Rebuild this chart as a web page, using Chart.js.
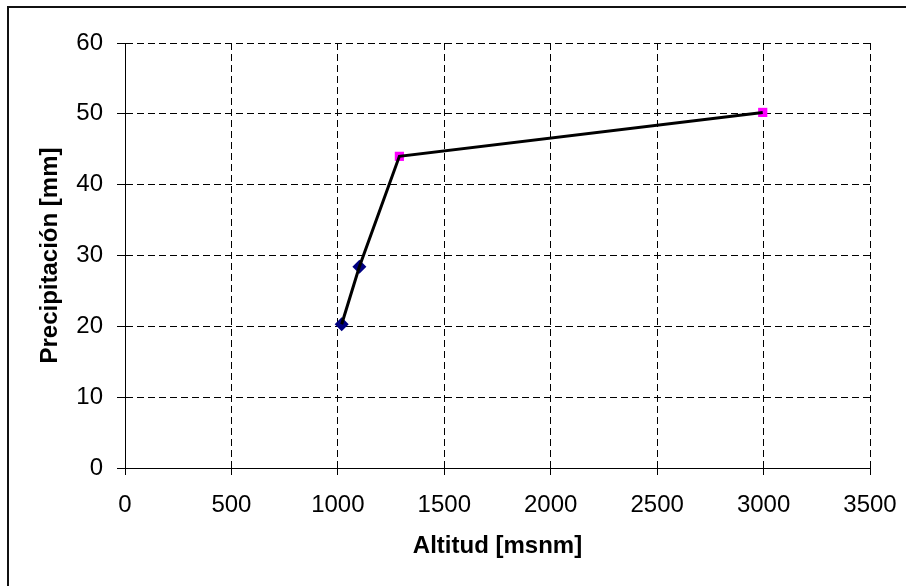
<!DOCTYPE html>
<html lang="es">
<head>
  <meta charset="UTF-8" />
  <title>Precipitación vs Altitud</title>
  <script src="https://cdn.jsdelivr.net/npm/chart.js@4.4.1/dist/chart.umd.min.js"></script>
  <style>
    html, body {
      margin: 0;
      padding: 0;
      background: #fff;
    }
    .wrap {
      position: relative;
      width: 906px;
      height: 586px;
    }
    .frame {
      position: absolute;
      left: 7px;
      top: 6px;
      right: 0;
      bottom: 0;
      border-top: 2px solid #111;
      border-left: 2px solid #111;
      pointer-events: none;
    }
  </style>
</head>
<body>
  <div class="wrap">
    <canvas id="chart" width="906" height="586"></canvas>
    <div class="frame"></div>
  </div>

  <script>
    // estaciones (primer grupo: rombos azules)
    const altitudA = [1018, 1101];
    const precipA = [20.3, 28.4];
    // estaciones (segundo grupo: cuadrados magenta)
    const altitudB = [1289, 2996];
    const precipB = [44.0, 50.2];

    // ejes
    const xMin = 0, xMax = 3500, xStep = 500;
    const yMin = 0, yMax = 60, yStep = 10;
    const xTitle = "Altitud [msnm]";
    const yTitle = "Precipitación [mm]";

    const toPoints = (xs, ys) => xs.map((x, i) => ({ x: x, y: ys[i] }));
    const lineData = toPoints(altitudA.concat(altitudB), precipA.concat(precipB));

    const font = "'Liberation Sans', Arial, sans-serif";

    new Chart(document.getElementById("chart").getContext("2d"), {
      type: "scatter",
      data: {
        datasets: [
          {
            label: "línea",
            data: lineData,
            showLine: true,
            borderColor: "#000",
            borderWidth: 3,
            pointRadius: 0,
            tension: 0,
            order: 0
          },
          {
            label: "grupo A",
            data: toPoints(altitudA, precipA),
            pointStyle: "rectRot",
            pointRadius: 7,
            pointBackgroundColor: "#000080",
            pointBorderColor: "#000080",
            pointBorderWidth: 0,
            order: 1
          },
          {
            label: "grupo B",
            data: toPoints(altitudB, precipB),
            pointStyle: "rect",
            pointRadius: 6.5,
            pointBackgroundColor: "#ff00ff",
            pointBorderColor: "#ff00ff",
            pointBorderWidth: 0,
            order: 1
          }
        ]
      },
      options: {
        responsive: false,
        animation: false,
        layout: { padding: { left: 0, right: 36, top: 43, bottom: 0 } },
        plugins: {
          legend: { display: false },
          tooltip: { enabled: false }
        },
        scales: {
          x: {
            type: "linear",
            min: xMin,
            max: xMax,
            ticks: {
              stepSize: xStep,
              color: "#000",
              padding: 16,
              font: { family: font, size: 24 },
              callback: (v) => String(v)
            },
            grid: {
              color: "#000",
              lineWidth: 1,
              tickLength: 7,
              tickColor: "#000",
              tickBorderDash: []
            },
            border: { color: "#000", width: 1, dash: [7, 4] },
            title: {
              display: true,
              text: xTitle,
              color: "#000",
              padding: { top: 25, bottom: 25 },
              font: { family: font, size: 24, weight: "bold" }
            },
            afterFit: (scale) => {
              scale.height = 118;
              scale.paddingLeft = 0;
              scale.paddingRight = 0;
            }
          },
          y: {
            type: "linear",
            min: yMin,
            max: yMax,
            ticks: {
              stepSize: yStep,
              color: "#000",
              padding: 14,
              font: { family: font, size: 24 },
              callback: (v) => String(v)
            },
            grid: {
              color: "#000",
              lineWidth: 1,
              tickLength: 8,
              tickColor: "#000",
              tickBorderDash: []
            },
            border: { color: "#000", width: 1, dash: [7, 4] },
            title: {
              display: true,
              text: yTitle,
              color: "#000",
              padding: { top: 36, bottom: 0 },
              font: { family: font, size: 24, weight: "bold" }
            },
            afterFit: (scale) => { scale.width = 125; }
          }
        }
      }
    });
  </script>
</body>
</html>
